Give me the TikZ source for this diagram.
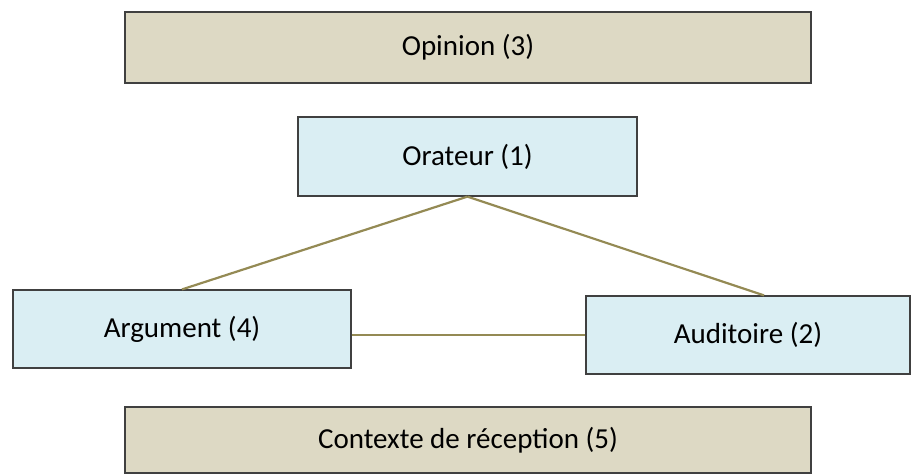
\documentclass[tikz,border=0pt]{standalone}
\usepackage{fontspec}
\setmainfont{Carlito}
\usepackage{tikz}
\usetikzlibrary{positioning, calc}
\definecolor{mytan}{RGB}{221,217,196}
\definecolor{myblue}{RGB}{218,238,243}
\definecolor{myborder}{RGB}{64,64,64}
\definecolor{myolive}{RGB}{148,138,84}
\tikzset{
  tanbox/.style={rectangle, draw=myborder, fill=mytan, line width=1.2pt,
    minimum width=686pt, font=\fontsize{29}{34}\selectfont},
  bluebox/.style={rectangle, draw=myborder, fill=myblue, line width=1.2pt,
    font=\fontsize{29}{34}\selectfont},
  link/.style={line width=2.2pt, color=myolive}
}
\begin{document}
\begin{tikzpicture}[x=1pt, y=-1pt]
  \useasboundingbox (0,0) rectangle (911,474);
  % Boxes
  \node[tanbox, minimum height=71pt] (opinion) at (468, 47.5) {Opinion (3)};
  \node[bluebox, minimum width=339pt, minimum height=79pt] (orateur) at (467.5, 156.5) {Orateur (1)};
  \node[bluebox, minimum width=338pt, minimum height=78pt] (argument) at (182, 329) {Argument (4)};
  \node[bluebox, minimum width=324pt, minimum height=78pt] (auditoire) at (748, 335) {Auditoire (2)};
  \node[tanbox, minimum height=66pt] (contexte) at (468, 440) {Contexte de réception (5)};

  % Links
  \draw[link] (orateur.south) -- (argument.north);
  \draw[link] (orateur.south) -- ([xshift=16pt]auditoire.north);
  \draw[link] (auditoire.west) -- (auditoire.west -| argument.east);
\end{tikzpicture}
\end{document}
